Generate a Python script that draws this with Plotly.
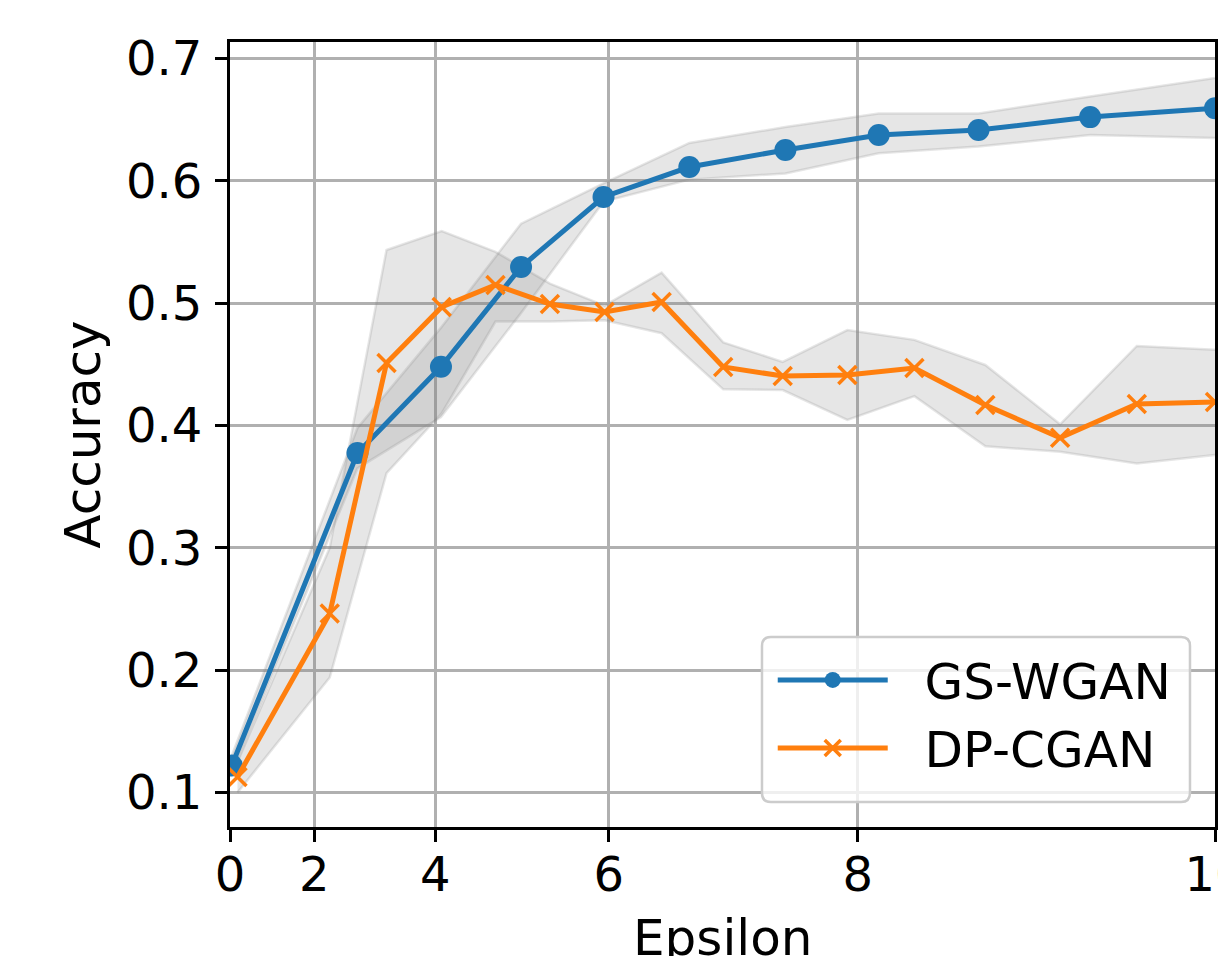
import numpy as np
import plotly.graph_objects as go

# ---- data (epsilon on x, accuracy on y) ----
gs_eps = [0.05, 2.80, 4.08, 5.08, 5.95, 6.73, 7.49, 8.14, 8.76, 9.38, 10.0]
gs_acc = [0.122, 0.3775, 0.448, 0.5296, 0.5868, 0.6113, 0.6252, 0.6374, 0.6415, 0.6521, 0.6594]
gs_upper = [0.130, 0.398, 0.480, 0.565, 0.598, 0.631, 0.644, 0.655, 0.655, 0.669, 0.684]
gs_lower = [0.115, 0.365, 0.407, 0.492, 0.583, 0.601, 0.606, 0.6225, 0.628, 0.6375, 0.635]

dp_eps = [0.21, 2.30, 3.28, 4.09, 4.78, 5.40, 5.96, 6.49, 7.01, 7.47, 7.93, 8.37, 8.80, 9.22, 9.62, 10.0]
dp_acc = [0.1127, 0.2463, 0.4511, 0.4969, 0.5149, 0.4993, 0.4928, 0.5010, 0.4478, 0.4405,
          0.4413, 0.4470, 0.4168, 0.3899, 0.4176, 0.4192]
dp_upper = [0.125, 0.300, 0.5435, 0.559, 0.542, 0.516, 0.498, 0.525, 0.468, 0.452,
            0.478, 0.470, 0.4495, 0.401, 0.465, 0.462]
dp_lower = [0.100, 0.194, 0.361, 0.410, 0.485, 0.485, 0.486, 0.4754, 0.4296, 0.429,
            0.4045, 0.424, 0.383, 0.3786, 0.369, 0.376]

series_names = ["GS-WGAN", "DP-CGAN"]
x_title = "Epsilon"
y_title = "Accuracy"
x_ticks = [0, 2, 4, 6, 8, 10]
x_tick_labels = ["0", "2", "4", "6", "8", "10"]
y_ticks = [0.1, 0.2, 0.3, 0.4, 0.5, 0.6, 0.7]
y_tick_labels = ["0.1", "0.2", "0.3", "0.4", "0.5", "0.6", "0.7"]

# ---- exponential x-axis scale (as in the original figure) ----
EPS_SCALE_K = 0.1806


def eps_axis(e):
    return np.exp(EPS_SCALE_K * np.asarray(e, dtype=float))


BLUE = "#1f77b4"
ORANGE = "#ff7f0e"
BAND_FILL = "rgba(128,128,128,0.2)"
BAND_EDGE = "rgba(128,128,128,0.2)"
FONT = "DejaVu Sans"
NBSP = "\u00a0"

fig = go.Figure()


def add_band(xs, lo, hi):
    fig.add_trace(go.Scatter(x=eps_axis(xs), y=lo, mode="lines",
                             line=dict(color=BAND_EDGE, width=2.5),
                             showlegend=False, hoverinfo="skip"))
    fig.add_trace(go.Scatter(x=eps_axis(xs), y=hi, mode="lines", fill="tonexty",
                             fillcolor=BAND_FILL,
                             line=dict(color=BAND_EDGE, width=2.5),
                             showlegend=False, hoverinfo="skip"))


add_band(gs_eps, gs_lower, gs_upper)
add_band(dp_eps, dp_lower, dp_upper)

fig.add_trace(go.Scatter(x=eps_axis(gs_eps), y=gs_acc, mode="lines+markers",
                         name=NBSP * 2 + series_names[0], legendgroup="g1",
                         line=dict(color=BLUE, width=5),
                         marker=dict(symbol="circle", size=22, color=BLUE)))
fig.add_trace(go.Scatter(x=eps_axis(dp_eps), y=dp_acc, mode="lines+markers",
                         name=NBSP * 2 + series_names[1], legendgroup="g2",
                         line=dict(color=ORANGE, width=5),
                         marker=dict(symbol="x-thin", size=18,
                                     line=dict(color=ORANGE, width=3.5))))

axis_common = dict(
    showline=True, linecolor="black", linewidth=3, mirror=True,
    ticks="outside", ticklen=12, tickwidth=3, tickcolor="black",
    showgrid=True, gridcolor="#b0b0b0", gridwidth=2.5,
    zeroline=False,
    tickfont=dict(family=FONT, size=48, color="black"),
)

fig.update_xaxes(
    range=[float(eps_axis(0)), float(eps_axis(10))],
    tickmode="array", tickvals=eps_axis(x_ticks), ticktext=x_tick_labels,
    ticklabelstandoff=-9, ticklabeloverflow="allow",
    **axis_common,
)
fig.update_yaxes(
    range=[0.0718, 0.7135],
    tickmode="array", tickvals=y_ticks, ticktext=y_tick_labels,
    ticklabelstandoff=3,
    title=dict(text=y_title, font=dict(family=FONT, size=50, color="black"), standoff=10),
    **axis_common,
)

# x-axis title (partly outside the picture, as in the original crop)
fig.add_annotation(text=x_title, xref="paper", yref="paper", x=0.5, y=-0.1414,
                   xanchor="center", yanchor="middle", showarrow=False,
                   font=dict(family=FONT, size=50, color="black"))

# rounded legend frame (paper coordinates)
bx0, bx1, by0, by1 = 0.5401, 0.9746, 0.0318, 0.2420
rx, ry = 0.009, 0.0115
frame_path = (
    f"M {bx0 + rx},{by0} L {bx1 - rx},{by0} Q {bx1},{by0} {bx1},{by0 + ry} "
    f"L {bx1},{by1 - ry} Q {bx1},{by1} {bx1 - rx},{by1} "
    f"L {bx0 + rx},{by1} Q {bx0},{by1} {bx0},{by1 - ry} "
    f"L {bx0},{by0 + ry} Q {bx0},{by0} {bx0 + rx},{by0} Z"
)
fig.add_shape(type="path", path=frame_path, xref="paper", yref="paper",
              fillcolor="rgba(255,255,255,0.8)", line=dict(color="#cccccc", width=2.5),
              layer="above")

fig.update_layout(
    width=1218, height=956,
    margin=dict(l=230, r=3, t=42, b=129, autoexpand=False),
    paper_bgcolor="white", plot_bgcolor="white",
    font=dict(family=FONT, color="black"),
    legend=dict(
        x=0.551, y=0.237, xanchor="left", yanchor="top",
        bgcolor="rgba(0,0,0,0)", borderwidth=0,
        font=dict(family=FONT, size=50, color="black"),
        itemwidth=110, tracegroupgap=10, traceorder="normal",
    ),
)

fig.write_html("out.html", config={"displayModeBar": False},
               post_script="document.body.style.margin='0';")
